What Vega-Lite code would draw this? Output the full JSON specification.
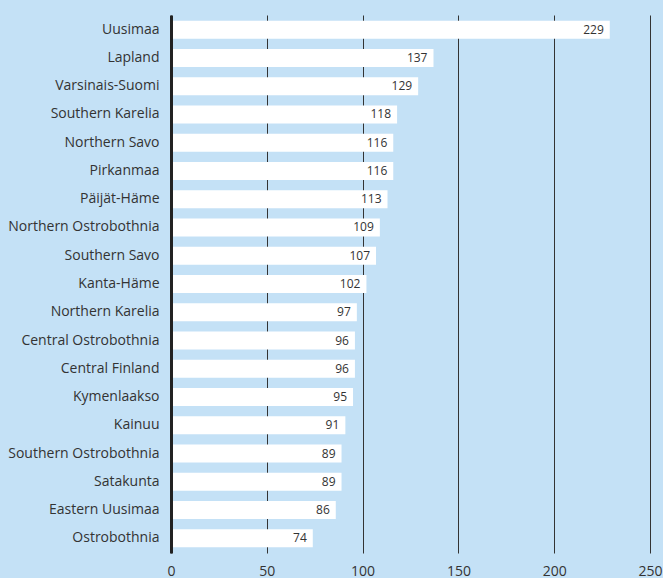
{
  "$schema": "https://vega.github.io/schema/vega-lite/v6.json",
  "width": 479,
  "height": 538,
  "autosize": {"type": "none"},
  "padding": {"left": 171, "top": 15, "right": 13, "bottom": 25},
  "background": "#c4e1f6",
  "config": {
    "view": {"stroke": null},
    "font": "Open Sans",
    "axis": {"labelFont": "Open Sans", "labelColor": "#333333"}
  },
  "data": {
    "values": [
      {"region": "Uusimaa", "value": 229},
      {"region": "Lapland", "value": 137},
      {"region": "Varsinais-Suomi", "value": 129},
      {"region": "Southern Karelia", "value": 118},
      {"region": "Northern Savo", "value": 116},
      {"region": "Pirkanmaa", "value": 116},
      {"region": "Päijät-Häme", "value": 113},
      {"region": "Northern Ostrobothnia", "value": 109},
      {"region": "Southern Savo", "value": 107},
      {"region": "Kanta-Häme", "value": 102},
      {"region": "Northern Karelia", "value": 97},
      {"region": "Central Ostrobothnia", "value": 96},
      {"region": "Central Finland", "value": 96},
      {"region": "Kymenlaakso", "value": 95},
      {"region": "Kainuu", "value": 91},
      {"region": "Southern Ostrobothnia", "value": 89},
      {"region": "Satakunta", "value": 89},
      {"region": "Eastern Uusimaa", "value": 86},
      {"region": "Ostrobothnia", "value": 74}
    ]
  },
  "encoding": {
    "y": {
      "field": "region",
      "type": "nominal",
      "sort": null,
      "scale": {"paddingInner": 0.36, "paddingOuter": 0.2},
      "axis": {
        "title": null,
        "ticks": false,
        "domain": true,
        "domainColor": "#222222",
        "domainWidth": 3,
        "zindex": 1,
        "labelFontSize": 14,
        "labelPadding": 12
      }
    },
    "x": {
      "field": "value",
      "type": "quantitative",
      "scale": {"domain": [0, 250], "nice": false},
      "axis": {
        "title": null,
        "values": [0, 50, 100, 150, 200, 250],
        "ticks": false,
        "domain": false,
        "grid": true,
        "gridColor": "#333333",
        "gridWidth": 1,
        "labelFontSize": 14,
        "labelPadding": 11,
        "labelFlush": false
      }
    }
  },
  "layer": [
    {"mark": {"type": "bar", "color": "#ffffff"}},
    {
      "mark": {"type": "text", "align": "right", "dx": -6, "fontSize": 12, "color": "#333333"},
      "encoding": {"text": {"field": "value", "type": "quantitative"}}
    }
  ]
}
